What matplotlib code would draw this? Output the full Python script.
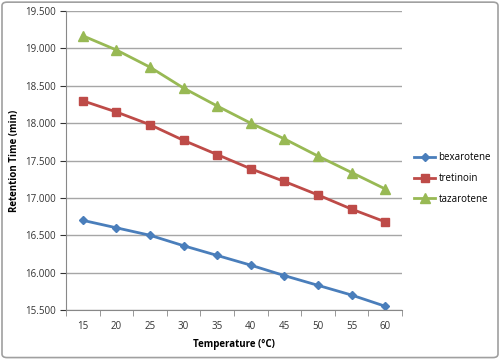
import numpy as np
import matplotlib
matplotlib.use('Agg')
from matplotlib import pyplot as plt
from matplotlib.patches import FancyBboxPatch

# data
temps = [15, 20, 25, 30, 35, 40, 45, 50, 55, 60]
bexarotene = [16.70, 16.60, 16.50, 16.36, 16.23, 16.10, 15.96, 15.83, 15.70, 15.55]
tretinoin = [18.30, 18.15, 17.98, 17.77, 17.58, 17.39, 17.22, 17.04, 16.85, 16.68]
tazarotene = [19.17, 18.98, 18.75, 18.47, 18.23, 18.00, 17.79, 17.56, 17.34, 17.12]

plt.rcParams['font.family'] = ['Open Sans', 'DejaVu Sans']

fig = plt.figure(figsize=(5, 3.59), dpi=100)
ax = fig.add_axes([0.132, 0.1365, 0.672, 0.8325])

# figure border
border = FancyBboxPatch((0.004, 0.004), 0.992, 0.99, boxstyle='round,pad=0,rounding_size=0.01',
                        transform=fig.transFigure, fill=False, edgecolor='#a0a0a0', linewidth=1.2)
fig.patches.append(border)

x = np.arange(len(temps))
ax.plot(x, bexarotene, color='#4a7ebb', linewidth=2, marker='D', markersize=4.5, label='bexarotene')
ax.plot(x, tretinoin, color='#be4b48', linewidth=2, marker='s', markersize=6, label='tretinoin')
ax.plot(x, tazarotene, color='#98b954', linewidth=2, marker='^', markersize=7, label='tazarotene')

ax.set_xlim(-0.5, len(temps) - 0.5)
ax.set_ylim(15.5, 19.5)
ax.set_yticks(np.arange(15.5, 19.51, 0.5))
ax.set_yticklabels(['%.3f' % v for v in np.arange(15.5, 19.51, 0.5)])
ax.set_xticks(x)
ax.set_xticklabels([str(t) for t in temps])
ax.set_xticks(np.arange(-0.5, len(temps), 1), minor=True)
ax.tick_params(axis='x', which='major', length=0, pad=8)
ax.tick_params(axis='x', which='minor', length=4, color='#888888')
ax.tick_params(axis='y', length=4, color='#888888', pad=3)
ax.tick_params(labelsize=7, colors='#333333')

ax.grid(axis='y', color='#a6a6a6', linewidth=1)
ax.set_axisbelow(True)
for s in ['top', 'right']:
    ax.spines[s].set_visible(False)
for s in ['left', 'bottom']:
    ax.spines[s].set_color('#888888')

ax.set_xlabel('Temperature (°C)', fontsize=7, fontweight='bold', labelpad=5)
ax.set_ylabel('Retention Time (min)', fontsize=7, fontweight='bold')
ax.yaxis.set_label_coords(-0.137, 0.5)

ax.legend(loc='center left', bbox_to_anchor=(1.01, 0.44), frameon=False, fontsize=7,
          handlelength=2.2, labelspacing=1.0, handletextpad=0.3)

fig.savefig('out.png', dpi=100)
